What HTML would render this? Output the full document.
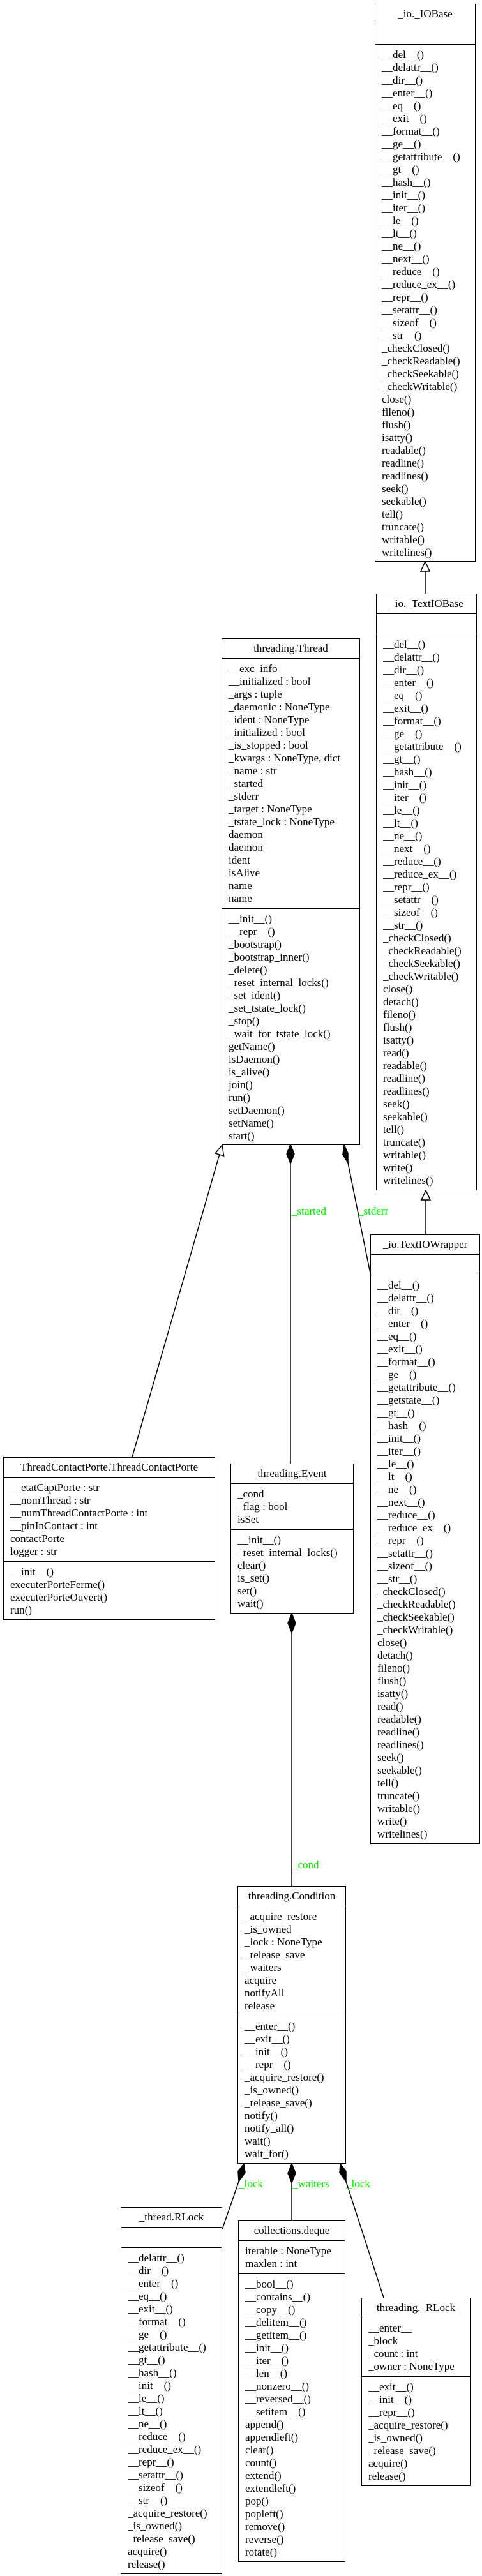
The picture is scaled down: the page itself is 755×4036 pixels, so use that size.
<!DOCTYPE html>
<html><head><meta charset="utf-8">
<style>
html,body{margin:0;padding:0;background:#fff;}
body{width:755px;height:4036px;position:relative;overflow:hidden;font-family:"Liberation Serif","Times New Roman",serif;font-size:17px;color:#000;}
.box{position:absolute;border:1.5px solid #000;box-sizing:border-box;background:#fff;}
.t{height:31px;line-height:30px;text-align:center;border-bottom:1.5px solid #000;box-sizing:border-box;white-space:nowrap;}
.s{box-sizing:border-box;padding:6px 0 0 10px;line-height:20px;white-space:nowrap;}
.s.a{border-bottom:1.5px solid #000;}
.lbl{position:absolute;color:#00ee00;font-size:17px;white-space:nowrap;line-height:20px;}
svg{position:absolute;left:0;top:0;}
</style></head><body>
<svg width="755" height="4036" viewBox="0 0 755 4036">
<g stroke="#000" stroke-width="1.5" fill="none">
<line x1="666" y1="930" x2="666" y2="895"/>
<polygon points="666,880 673,895 659,895" fill="#fff"/>
<line x1="667" y1="1934" x2="667" y2="1880"/>
<polygon points="667,1865 674,1880 660,1880" fill="#fff"/>
<line x1="207" y1="2283" x2="344" y2="1808"/>
<polygon points="348,1794 350.5,1811 337.1,1807" fill="#fff"/>
<line x1="455" y1="1823" x2="455" y2="2293"/>
<polygon points="455,1793 461,1808 455,1823 449,1808" fill="#000"/>
<line x1="545" y1="1822" x2="580" y2="1995"/>
<polygon points="539,1793 545,1807 545,1822 537,1809" fill="#000"/>
<line x1="457" y1="2558" x2="457" y2="2955"/>
<polygon points="457,2528 463,2543 457,2558 451,2543" fill="#000"/>
<line x1="374" y1="3418" x2="348" y2="3493"/>
<polygon points="382,3390 384,3404 374,3418 373,3402" fill="#000"/>
<line x1="457" y1="3420" x2="457" y2="3479"/>
<polygon points="457,3390 463,3405 457,3420 451,3405" fill="#000"/>
<line x1="542" y1="3418" x2="601" y2="3600"/>
<polygon points="533,3390 542,3402 542,3418 532,3404" fill="#000"/>
</g>
</svg>

<div class="lbl" style="left:457px;top:1888px">_started</div>
<div class="lbl" style="left:561px;top:1888px">_stderr</div>
<div class="lbl" style="left:458px;top:2912px">_cond</div>
<div class="lbl" style="left:374px;top:3412px">_lock</div>
<div class="lbl" style="left:458px;top:3412px">_waiters</div>
<div class="lbl" style="left:542px;top:3412px">_lock</div>

<div class="box" style="left:587px;top:6px;width:158px;height:874px">
<div class="t">_io._IOBase</div>
<div class="s a" style="height:32px"></div>
<div class="s">__del__()<br>__delattr__()<br>__dir__()<br>__enter__()<br>__eq__()<br>__exit__()<br>__format__()<br>__ge__()<br>__getattribute__()<br>__gt__()<br>__hash__()<br>__init__()<br>__iter__()<br>__le__()<br>__lt__()<br>__ne__()<br>__next__()<br>__reduce__()<br>__reduce_ex__()<br>__repr__()<br>__setattr__()<br>__sizeof__()<br>__str__()<br>_checkClosed()<br>_checkReadable()<br>_checkSeekable()<br>_checkWritable()<br>close()<br>fileno()<br>flush()<br>isatty()<br>readable()<br>readline()<br>readlines()<br>seek()<br>seekable()<br>tell()<br>truncate()<br>writable()<br>writelines()</div>
</div>

<div class="box" style="left:589px;top:930px;width:158px;height:935px">
<div class="t">_io._TextIOBase</div>
<div class="s a" style="height:32px"></div>
<div class="s">__del__()<br>__delattr__()<br>__dir__()<br>__enter__()<br>__eq__()<br>__exit__()<br>__format__()<br>__ge__()<br>__getattribute__()<br>__gt__()<br>__hash__()<br>__init__()<br>__iter__()<br>__le__()<br>__lt__()<br>__ne__()<br>__next__()<br>__reduce__()<br>__reduce_ex__()<br>__repr__()<br>__setattr__()<br>__sizeof__()<br>__str__()<br>_checkClosed()<br>_checkReadable()<br>_checkSeekable()<br>_checkWritable()<br>close()<br>detach()<br>fileno()<br>flush()<br>isatty()<br>read()<br>readable()<br>readline()<br>readlines()<br>seek()<br>seekable()<br>tell()<br>truncate()<br>writable()<br>write()<br>writelines()</div>
</div>

<div class="box" style="left:347px;top:1000px;width:217px;height:794px">
<div class="t">threading.Thread</div>
<div class="s a" style="height:392px">__exc_info<br>__initialized : bool<br>_args : tuple<br>_daemonic : NoneType<br>_ident : NoneType<br>_initialized : bool<br>_is_stopped : bool<br>_kwargs : NoneType, dict<br>_name : str<br>_started<br>_stderr<br>_target : NoneType<br>_tstate_lock : NoneType<br>daemon<br>daemon<br>ident<br>isAlive<br>name<br>name</div>
<div class="s">__init__()<br>__repr__()<br>_bootstrap()<br>_bootstrap_inner()<br>_delete()<br>_reset_internal_locks()<br>_set_ident()<br>_set_tstate_lock()<br>_stop()<br>_wait_for_tstate_lock()<br>getName()<br>isDaemon()<br>is_alive()<br>join()<br>run()<br>setDaemon()<br>setName()<br>start()</div>
</div>

<div class="box" style="left:580px;top:1934px;width:172px;height:955px">
<div class="t">_io.TextIOWrapper</div>
<div class="s a" style="height:32px"></div>
<div class="s">__del__()<br>__delattr__()<br>__dir__()<br>__enter__()<br>__eq__()<br>__exit__()<br>__format__()<br>__ge__()<br>__getattribute__()<br>__getstate__()<br>__gt__()<br>__hash__()<br>__init__()<br>__iter__()<br>__le__()<br>__lt__()<br>__ne__()<br>__next__()<br>__reduce__()<br>__reduce_ex__()<br>__repr__()<br>__setattr__()<br>__sizeof__()<br>__str__()<br>_checkClosed()<br>_checkReadable()<br>_checkSeekable()<br>_checkWritable()<br>close()<br>detach()<br>fileno()<br>flush()<br>isatty()<br>read()<br>readable()<br>readline()<br>readlines()<br>seek()<br>seekable()<br>tell()<br>truncate()<br>writable()<br>write()<br>writelines()</div>
</div>

<div class="box" style="left:5px;top:2283px;width:332px;height:255px">
<div class="t">ThreadContactPorte.ThreadContactPorte</div>
<div class="s a" style="height:132px">__etatCaptPorte : str<br>__nomThread : str<br>__numThreadContactPorte : int<br>__pinInContact : int<br>contactPorte<br>logger : str</div>
<div class="s">__init__()<br>executerPorteFerme()<br>executerPorteOuvert()<br>run()</div>
</div>

<div class="box" style="left:361px;top:2293px;width:193px;height:235px">
<div class="t">threading.Event</div>
<div class="s a" style="height:72px">_cond<br>_flag : bool<br>isSet</div>
<div class="s">__init__()<br>_reset_internal_locks()<br>clear()<br>is_set()<br>set()<br>wait()</div>
</div>

<div class="box" style="left:372px;top:2955px;width:170px;height:435px">
<div class="t">threading.Condition</div>
<div class="s a" style="height:172px">_acquire_restore<br>_is_owned<br>_lock : NoneType<br>_release_save<br>_waiters<br>acquire<br>notifyAll<br>release</div>
<div class="s">__enter__()<br>__exit__()<br>__init__()<br>__repr__()<br>_acquire_restore()<br>_is_owned()<br>_release_save()<br>notify()<br>notify_all()<br>wait()<br>wait_for()</div>
</div>

<div class="box" style="left:189px;top:3458px;width:159px;height:575px">
<div class="t">_thread.RLock</div>
<div class="s a" style="height:32px"></div>
<div class="s">__delattr__()<br>__dir__()<br>__enter__()<br>__eq__()<br>__exit__()<br>__format__()<br>__ge__()<br>__getattribute__()<br>__gt__()<br>__hash__()<br>__init__()<br>__le__()<br>__lt__()<br>__ne__()<br>__reduce__()<br>__reduce_ex__()<br>__repr__()<br>__setattr__()<br>__sizeof__()<br>__str__()<br>_acquire_restore()<br>_is_owned()<br>_release_save()<br>acquire()<br>release()</div>
</div>

<div class="box" style="left:373px;top:3479px;width:168px;height:535px">
<div class="t">collections.deque</div>
<div class="s a" style="height:52px">iterable : NoneType<br>maxlen : int</div>
<div class="s">__bool__()<br>__contains__()<br>__copy__()<br>__delitem__()<br>__getitem__()<br>__init__()<br>__iter__()<br>__len__()<br>__nonzero__()<br>__reversed__()<br>__setitem__()<br>append()<br>appendleft()<br>clear()<br>count()<br>extend()<br>extendleft()<br>pop()<br>popleft()<br>remove()<br>reverse()<br>rotate()</div>
</div>

<div class="box" style="left:566px;top:3600px;width:171px;height:295px">
<div class="t">threading._RLock</div>
<div class="s a" style="height:92px">__enter__<br>_block<br>_count : int<br>_owner : NoneType</div>
<div class="s">__exit__()<br>__init__()<br>__repr__()<br>_acquire_restore()<br>_is_owned()<br>_release_save()<br>acquire()<br>release()</div>
</div>
</body></html>
